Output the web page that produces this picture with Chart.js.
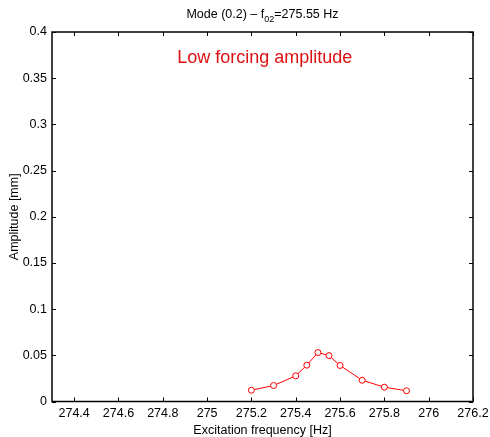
<!DOCTYPE html>
<html>
<head>
<meta charset="utf-8">
<script src="https://cdn.jsdelivr.net/npm/chart.js@4.4.1/dist/chart.umd.min.js"></script>
<style>
  html, body { margin: 0; padding: 0; background: #fff; }
  #wrap { width: 490px; height: 437px; }
</style>
</head>
<body>
<div id="wrap"><canvas id="modeChart" width="490" height="437"></canvas></div>
<script>
// measured response, mode (0.2)
const frequencies = [275.2, 275.3, 275.4, 275.45, 275.5, 275.55, 275.6, 275.7, 275.8, 275.9];
const amplitudes = [0.0122, 0.0173, 0.0278, 0.0393, 0.0530, 0.0497, 0.0390, 0.0230, 0.0155, 0.0116];

const xTicks = [274.4, 274.6, 274.8, 275, 275.2, 275.4, 275.6, 275.8, 276, 276.2];
const yTicks = [0, 0.05, 0.1, 0.15, 0.2, 0.25, 0.3, 0.35, 0.4];

const FONT = 'Liberation Sans, Arial, Helvetica, sans-serif';

function fmt(v) {
    return String(parseFloat(v.toFixed(2)));
}

// box around the axes plus inward ticks on every side
const frameTicks = {
    id: 'frameTicks',
    afterDraw(chart) {
        const ctx = chart.ctx;
        const a = chart.chartArea;
        const xs = chart.scales.x;
        const ys = chart.scales.y;
        const len = 4;
        ctx.save();
        ctx.strokeStyle = '#000';
        ctx.lineWidth = 1;
        ctx.beginPath();
        xTicks.forEach(function (v) {
            const px = Math.round(xs.getPixelForValue(v)) + 0.5;
            ctx.moveTo(px, a.bottom);
            ctx.lineTo(px, a.bottom - len);
            ctx.moveTo(px, a.top);
            ctx.lineTo(px, a.top + len);
        });
        yTicks.forEach(function (v) {
            const py = Math.round(ys.getPixelForValue(v)) + 0.5;
            ctx.moveTo(a.left, py);
            ctx.lineTo(a.left + len, py);
            ctx.moveTo(a.right, py);
            ctx.lineTo(a.right - len, py);
        });
        ctx.stroke();
        ctx.lineWidth = 1.5;
        ctx.strokeRect(a.left, a.top, a.right - a.left, a.bottom - a.top);
        ctx.restore();
    }
};

// title with subscript and the in-plot note
const labels = {
    id: 'labels',
    afterDraw(chart) {
        const ctx = chart.ctx;
        const a = chart.chartArea;
        ctx.save();
        ctx.fillStyle = '#000';
        ctx.textBaseline = 'alphabetic';
        const parts = [
            { t: 'Mode (0.2) \u2013 f', size: 12.5, dy: 0 },
            { t: '02', size: 9, dy: 4 },
            { t: '=275.55 Hz', size: 12.5, dy: 0 }
        ];
        let total = 0;
        parts.forEach(function (p) {
            ctx.font = p.size + 'px ' + FONT;
            p.w = ctx.measureText(p.t).width;
            total += p.w;
        });
        let x = (a.left + a.right) / 2 - total / 2;
        parts.forEach(function (p) {
            ctx.font = p.size + 'px ' + FONT;
            ctx.fillText(p.t, x, 18 + p.dy);
            x += p.w;
        });

        ctx.fillStyle = '#dd1111';
        ctx.font = '18px ' + FONT;
        ctx.textAlign = 'center';
        ctx.textBaseline = 'middle';
        ctx.fillText('Low forcing amplitude', chart.scales.x.getPixelForValue(275.26), 58);
        ctx.restore();
    }
};

new Chart(document.getElementById('modeChart'), {
    type: 'scatter',
    data: {
        datasets: [{
            data: frequencies.map(function (f, i) { return { x: f, y: amplitudes[i] }; }),
            showLine: true,
            borderColor: '#ff0000',
            borderWidth: 1,
            pointRadius: 3,
            pointBorderWidth: 1,
            pointBorderColor: '#ff0000',
            pointBackgroundColor: '#ffffff'
        }]
    },
    options: {
        responsive: false,
        animation: false,
        layout: { padding: { top: 32, right: 17, left: 0, bottom: 0 } },
        plugins: {
            legend: { display: false },
            tooltip: { enabled: false }
        },
        scales: {
            x: {
                type: 'linear',
                min: 274.3,
                max: 276.2,
                afterBuildTicks: function (s) { s.ticks = xTicks.map(function (v) { return { value: v }; }); },
                afterFit: function (s) {
                    s.height = 35.5;
                    s.paddingLeft = 0;
                    s.paddingRight = 0;
                },
                grid: { display: false, drawTicks: false },
                border: { display: false },
                ticks: {
                    color: '#000',
                    padding: 5,
                    maxRotation: 0,
                    autoSkip: false,
                    font: { family: FONT, size: 12.5 },
                    callback: function (v) { return fmt(v); }
                },
                title: {
                    display: true,
                    text: 'Excitation frequency [Hz]',
                    color: '#000',
                    font: { family: FONT, size: 12.5 },
                    padding: { top: 0, bottom: -1 }
                }
            },
            y: {
                min: 0,
                max: 0.4,
                afterBuildTicks: function (s) { s.ticks = yTicks.map(function (v) { return { value: v }; }); },
                afterFit: function (s) {
                    s.width = 52;
                    s.paddingTop = 0;
                    s.paddingBottom = 0;
                },
                grid: { display: false, drawTicks: false },
                border: { display: false },
                ticks: {
                    color: '#000',
                    padding: 5,
                    autoSkip: false,
                    font: { family: FONT, size: 12.5 },
                    callback: function (v) { return fmt(v); }
                },
                title: {
                    display: true,
                    text: 'Amplitude [mm]',
                    color: '#000',
                    font: { family: FONT, size: 12.5 },
                    padding: { top: 7, bottom: 0 }
                }
            }
        }
    },
    plugins: [frameTicks, labels]
});
</script>
</body>
</html>
